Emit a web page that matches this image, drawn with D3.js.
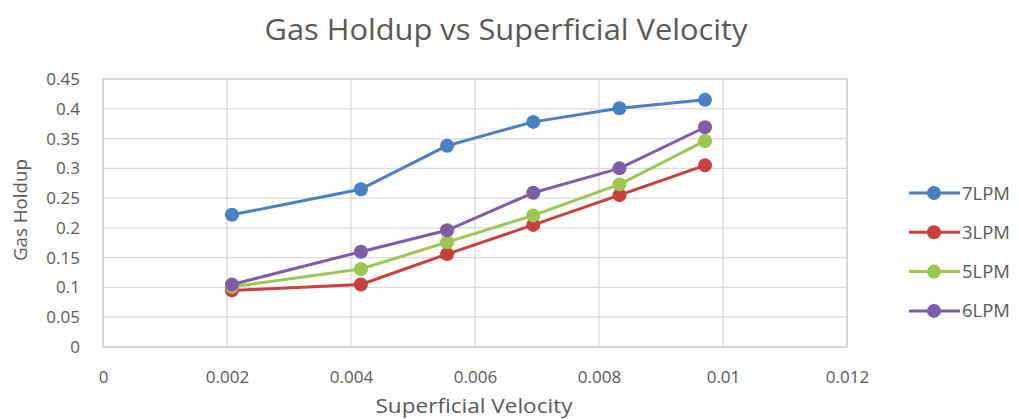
<!DOCTYPE html>
<html><head><meta charset="utf-8">
<script src="https://cdn.jsdelivr.net/npm/d3@7"></script>
<style>body{margin:0;background:#fff}svg{display:block}text{font-family:"Open Sans",Carlito,sans-serif;fill:#595959}</style>
</head><body>
<svg id="chart" width="1019" height="419"></svg>
<script>
const velocity = [0.00208, 0.00416, 0.00555, 0.00694, 0.00833, 0.00971];
const lpm7 = [0.222, 0.265, 0.338, 0.378, 0.401, 0.415];
const lpm3 = [0.095, 0.105, 0.156, 0.205, 0.255, 0.305];
const lpm5 = [0.101, 0.131, 0.176, 0.221, 0.273, 0.346];
const lpm6 = [0.105, 0.160, 0.196, 0.259, 0.300, 0.369];
const seriesNames = ["7LPM", "3LPM", "5LPM", "6LPM"];
const seriesColors = ["#4a7fc4", "#c9403c", "#9bc651", "#7d5ea6"];
const xTicks = [0, 0.002, 0.004, 0.006, 0.008, 0.01, 0.012];
const xTickLabels = ["0", "0.002", "0.004", "0.006", "0.008", "0.01", "0.012"];
const yTicks = [0, 0.05, 0.1, 0.15, 0.2, 0.25, 0.3, 0.35, 0.4, 0.45];
const yTickLabels = ["0", "0.05", "0.1", "0.15", "0.2", "0.25", "0.3", "0.35", "0.4", "0.45"];

const series = [lpm7, lpm3, lpm5, lpm6];
const svg = d3.select("#chart");
const L = 103, R = 847, T = 79, B = 347;
const x = d3.scaleLinear().domain([0, 0.012]).range([L, R]);
const y = d3.scaleLinear().domain([0, 0.45]).range([B, T]);

// grid
const g = svg.append("g");
g.selectAll(".hg").data(yTicks).join("line")
  .attr("x1", L).attr("x2", R).attr("y1", d => y(d)).attr("y2", d => y(d))
  .attr("stroke", "#d9d9d9").attr("stroke-width", 1.3);
g.selectAll(".vg").data(xTicks).join("line")
  .attr("y1", T).attr("y2", B).attr("x1", d => x(d)).attr("x2", d => x(d))
  .attr("stroke", "#d9d9d9").attr("stroke-width", 1.3);
g.append("rect").attr("x", L).attr("y", T).attr("width", R - L).attr("height", B - T)
  .attr("fill", "none").attr("stroke", "#d0d0d0").attr("stroke-width", 1.3);

// axes labels
const xAxis = d3.axisBottom(x).tickValues(xTicks).tickFormat((d, i) => xTickLabels[i]).tickSize(0).tickPadding(24);
const xa = svg.append("g").attr("transform", `translate(0,${B})`).call(xAxis);
xa.select(".domain").remove();
xa.selectAll("text").attr("font-size", 17).attr("font-family", '"Open Sans",sans-serif').attr("fill", "#595959");

const yAxis = d3.axisLeft(y).tickValues(yTicks).tickFormat((d, i) => yTickLabels[i]).tickSize(0).tickPadding(23);
const ya = svg.append("g").attr("transform", `translate(${L},0)`).call(yAxis);
ya.select(".domain").remove();
ya.selectAll("text").attr("font-size", 17).attr("font-family", '"Open Sans",sans-serif').attr("fill", "#595959");

// titles
svg.append("text").attr("x", 506).attr("y", 40).attr("text-anchor", "middle")
  .attr("font-size", 28.5).attr("textLength", 483).attr("lengthAdjust", "spacingAndGlyphs")
  .text("Gas Holdup vs Superficial Velocity");
svg.append("text").attr("x", 474).attr("y", 413).attr("text-anchor", "middle")
  .attr("font-size", 19.5).attr("textLength", 197).attr("lengthAdjust", "spacingAndGlyphs")
  .text("Superficial Velocity");
svg.append("text").attr("transform", "translate(27,210) rotate(-90)").attr("text-anchor", "middle")
  .attr("font-size", 18.5).attr("textLength", 102).attr("lengthAdjust", "spacingAndGlyphs")
  .text("Gas Holdup");

// lines
const line = d3.line().x((d, i) => x(velocity[i])).y(d => y(d));
series.forEach((s, k) => {
  svg.append("path").datum(s).attr("d", line).attr("fill", "none")
    .attr("stroke", seriesColors[k]).attr("stroke-width", 3).attr("stroke-linejoin", "round");
  svg.selectAll(null).data(s).join("circle")
    .attr("cx", (d, i) => x(velocity[i])).attr("cy", d => y(d)).attr("r", 7)
    .attr("fill", seriesColors[k]);
});

// legend
const lg = svg.append("g");
seriesNames.forEach((n, k) => {
  const yy = 193 + k * 39.3;
  lg.append("line").attr("x1", 909).attr("x2", 960).attr("y1", yy).attr("y2", yy)
    .attr("stroke", seriesColors[k]).attr("stroke-width", 3);
  lg.append("circle").attr("cx", 934).attr("cy", yy).attr("r", 7).attr("fill", seriesColors[k]);
  lg.append("text").attr("x", 962).attr("y", yy + 6.5).attr("font-size", 18.5)
    .text(n);
});
</script>
</body></html>
